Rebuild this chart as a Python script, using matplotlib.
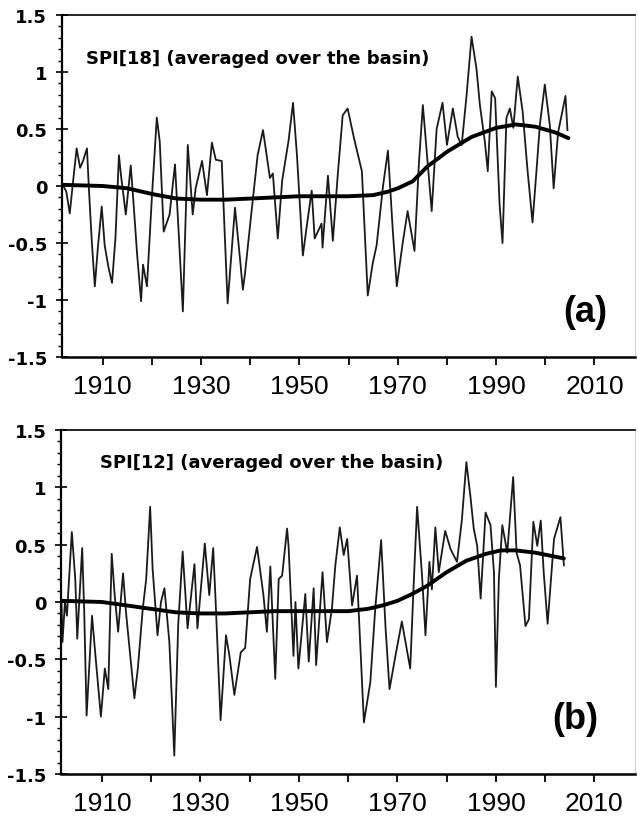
import matplotlib
matplotlib.use("Agg")
import matplotlib.pyplot as plt
from matplotlib.ticker import MultipleLocator

# Textos
TEXTO_A = "SPI[18] (averaged over the basin)"
TEXTO_B = "SPI[12] (averaged over the basin)"

# Ejes
XTICKS = [1910, 1930, 1950, 1970, 1990, 2010]
XTICKS_MENORES = [1920, 1940, 1960, 1980, 2000]
YTICKS = [1.5, 1, 0.5, 0, -0.5, -1, -1.5]
YLABELS = ["1.5", "1", "0.5", "0", "-0.5", "-1", "-1.5"]

# Panel (a): SPI[18]
ANIOS_A = [1902.0, 1902.6, 1903.3, 1904.0, 1904.7, 1905.4, 1906.0, 1906.8, 1907.2, 1907.8,
           1908.4, 1909.0, 1909.8, 1910.4, 1911.2, 1911.9, 1912.6, 1913.3, 1913.7, 1914.7,
           1915.7, 1916.3, 1917.0, 1917.8, 1918.2, 1919.0, 1920.0, 1921.0, 1921.6, 1922.4,
           1923.6, 1924.7, 1925.5, 1926.3, 1927.3, 1928.3, 1928.9, 1930.2, 1931.2, 1932.2,
           1933.0, 1934.2, 1935.4, 1936.9, 1937.9, 1938.5, 1938.9, 1940.2, 1941.5, 1942.6,
           1944.0, 1944.6, 1945.6, 1946.5, 1947.8, 1948.7, 1949.5, 1950.7, 1951.5, 1952.5,
           1953.1, 1954.5, 1954.7, 1955.8, 1956.8, 1957.8, 1958.8, 1959.8, 1961.1, 1962.7,
           1963.9, 1964.9, 1965.7, 1967.0, 1968.0, 1969.0, 1969.8, 1971.0, 1972.0, 1973.4,
           1974.3, 1975.1, 1976.1, 1976.9, 1977.9, 1979.1, 1980.0, 1981.2, 1982.2, 1983.0,
           1984.0, 1985.0, 1986.0, 1986.7, 1987.7, 1988.3, 1989.1, 1989.8, 1990.7, 1991.3,
           1992.1, 1992.8, 1993.5, 1994.4, 1995.4, 1996.4, 1997.4, 1998.2, 1998.9, 1999.9,
           2000.9, 2001.7, 2002.6, 2004.1, 2004.5]
SPI18 = [0.00, -0.05, -0.24, 0.05, 0.33, 0.16, 0.22, 0.33, -0.03, -0.50,
         -0.88, -0.55, -0.18, -0.52, -0.72, -0.85, -0.45, 0.27, 0.10, -0.25,
         0.18, -0.17, -0.60, -1.01, -0.69, -0.88, -0.10, 0.60, 0.39, -0.40,
         -0.25, 0.19, -0.45, -1.10, 0.36, -0.25, -0.02, 0.22, -0.08, 0.38,
         0.23, 0.22, -1.03, -0.19, -0.63, -0.91, -0.78, -0.25, 0.27, 0.49,
         0.07, 0.11, -0.46, 0.05, 0.40, 0.73, 0.27, -0.61, -0.35, -0.04,
         -0.46, -0.33, -0.54, 0.09, -0.48, 0.10, 0.62, 0.68, 0.42, 0.13,
         -0.96, -0.68, -0.52, 0.00, 0.31, -0.40, -0.88, -0.50, -0.22, -0.57,
         0.20, 0.71, 0.19, -0.22, 0.50, 0.73, 0.36, 0.68, 0.43, 0.36,
         0.80, 1.31, 1.03, 0.71, 0.39, 0.13, 0.83, 0.77, -0.16, -0.50,
         0.60, 0.68, 0.51, 0.96, 0.65, 0.13, -0.32, 0.13, 0.54, 0.89,
         0.54, -0.02, 0.47, 0.79, 0.49]
ANIOS_TEND_A = [1902, 1910, 1915, 1920, 1925, 1930, 1935, 1940, 1945, 1950, 1955, 1960,
                1965, 1968, 1970, 1973, 1976, 1980, 1985, 1990, 1994, 1998, 2002, 2004.7]
TEND_A = [0.01, 0.00, -0.02, -0.07, -0.11, -0.12, -0.12, -0.11, -0.10, -0.09, -0.09, -0.09,
          -0.08, -0.05, -0.02, 0.04, 0.17, 0.30, 0.43, 0.51, 0.54, 0.52, 0.47, 0.42]

# Panel (b): SPI[12]
ANIOS_B = [1901.8, 1902.0, 1902.5, 1902.9, 1903.9, 1904.6, 1905.0, 1906.0, 1906.4, 1906.9,
           1908.0, 1908.7, 1909.8, 1910.6, 1911.3, 1912.0, 1912.6, 1913.3, 1914.3, 1914.9,
           1916.6, 1917.3, 1918.3, 1919.0, 1919.8, 1920.3, 1921.3, 1922.0, 1922.7, 1923.7,
           1924.7, 1925.5, 1926.4, 1927.4, 1928.8, 1929.4, 1930.9, 1931.8, 1932.6, 1933.1,
           1934.1, 1935.2, 1935.9, 1936.9, 1938.2, 1939.1, 1940.1, 1941.5, 1942.8, 1943.5,
           1944.2, 1945.2, 1945.9, 1946.6, 1947.6, 1947.9, 1948.9, 1949.3, 1949.9, 1951.3,
           1952.0, 1953.0, 1953.5, 1954.8, 1955.7, 1956.7, 1957.4, 1958.3, 1959.1, 1959.8,
           1960.8, 1961.8, 1963.2, 1964.5, 1965.5, 1966.7, 1967.6, 1968.4, 1969.6, 1970.9,
           1972.6, 1973.3, 1974.0, 1975.0, 1975.7, 1976.5, 1977.0, 1977.7, 1978.4, 1979.7,
           1980.8, 1982.1, 1983.1, 1984.0, 1984.8, 1985.5, 1986.2, 1986.9, 1987.9, 1988.9,
           1989.6, 1990.0, 1990.6, 1991.3, 1992.3, 1993.5, 1994.2, 1994.9, 1996.0, 1996.7,
           1997.6, 1998.4, 1999.1, 1999.7, 2000.5, 2001.8, 2003.1, 2003.8]
SPI12 = [0.00, -0.35, 0.00, -0.12, 0.61, 0.20, -0.32, 0.47, -0.06, -0.99,
         -0.12, -0.47, -1.00, -0.58, -0.76, 0.42, 0.06, -0.26, 0.25, -0.09,
         -0.84, -0.58, -0.06, 0.20, 0.83, 0.29, -0.29, 0.00, 0.12, -0.35,
         -1.34, -0.20, 0.44, -0.23, 0.33, -0.23, 0.51, 0.06, 0.47, 0.00,
         -1.03, -0.29, -0.47, -0.81, -0.44, -0.40, 0.20, 0.48, 0.06, -0.26,
         0.31, -0.67, 0.20, 0.23, 0.64, 0.49, -0.47, 0.00, -0.58, 0.07,
         -0.52, 0.12, -0.55, 0.26, -0.35, -0.06, 0.32, 0.65, 0.41, 0.55,
         -0.03, 0.23, -1.05, -0.70, -0.06, 0.54, -0.23, -0.76, -0.47, -0.17,
         -0.58, 0.15, 0.83, 0.23, -0.29, 0.35, 0.11, 0.65, 0.26, 0.62,
         0.46, 0.35, 0.72, 1.22, 0.93, 0.64, 0.49, 0.03, 0.78, 0.67,
         0.26, -0.74, 0.20, 0.67, 0.43, 1.09, 0.43, 0.32, -0.21, -0.15,
         0.70, 0.49, 0.71, 0.26, -0.19, 0.55, 0.74, 0.32]
ANIOS_TEND_B = [1902, 1910, 1915, 1920, 1925, 1930, 1935, 1940, 1945, 1950, 1955, 1960,
                1964, 1967, 1970, 1973, 1976, 1980, 1984, 1988, 1991, 1994, 1998, 2003.8]
TEND_B = [0.01, 0.00, -0.03, -0.06, -0.09, -0.10, -0.10, -0.09, -0.08, -0.08, -0.08, -0.08,
          -0.06, -0.03, 0.01, 0.07, 0.14, 0.26, 0.36, 0.42, 0.45, 0.45, 0.43, 0.38]


def dibujar_panel(ax, anios, valores, anios_tend, tend, texto, pos_texto, letra, pos_letra):
    ax.plot(anios, valores, '-', color='#1a1a1a', lw=1.3)
    ax.plot(anios_tend, tend, '-', color='black', lw=2.8, solid_capstyle='round')

    ax.set_xlim(1901.7, 2018.2)
    ax.set_ylim(-1.5, 1.5)

    ax.set_yticks(YTICKS, YLABELS)
    ax.yaxis.set_minor_locator(MultipleLocator(0.1))
    ax.set_xticks(XTICKS, [str(x) for x in XTICKS])
    ax.set_xticks(XTICKS_MENORES, minor=True)

    for lbl in ax.get_yticklabels():
        lbl.set_fontfamily('DejaVu Sans')
        lbl.set_fontweight('bold')
        lbl.set_fontsize(13)
    for lbl in ax.get_xticklabels():
        lbl.set_fontfamily('Liberation Sans')
        lbl.set_fontsize(19)

    ax.tick_params(axis='y', which='major', direction='inout', length=9, width=1.2, pad=6)
    ax.tick_params(axis='y', which='minor', direction='out', length=3, width=1)
    ax.tick_params(axis='x', which='both', direction='out', length=6, width=1.3, pad=6)

    ax.spines['left'].set_linewidth(1.6)
    ax.spines['bottom'].set_linewidth(1.8)
    ax.spines['top'].set_linewidth(1.2)
    ax.spines['right'].set_linewidth(0.6)
    ax.spines['right'].set_color('#c8c8c8')

    ax.text(pos_texto[0], pos_texto[1], texto, transform=ax.transAxes,
            ha='left', va='center', fontsize=13, fontweight='bold', family='DejaVu Sans')
    ax.text(pos_letra[0], pos_letra[1], letra, transform=ax.transAxes,
            ha='center', va='center', fontsize=26, fontweight='bold', family='Liberation Sans')


fig = plt.figure(figsize=(6.38, 8.2), dpi=100)
ax_a = fig.add_axes([0.097, 0.5634, 0.898, 0.4171])
ax_b = fig.add_axes([0.0956, 0.0549, 0.8994, 0.4195])

dibujar_panel(ax_a, ANIOS_A, SPI18, ANIOS_TEND_A, TEND_A, TEXTO_A, (0.042, 0.873), "(a)", (0.913, 0.132))
dibujar_panel(ax_b, ANIOS_B, SPI12, ANIOS_TEND_B, TEND_B, TEXTO_B, (0.068, 0.907), "(b)", (0.897, 0.160))

fig.savefig("out.png", dpi=100)
